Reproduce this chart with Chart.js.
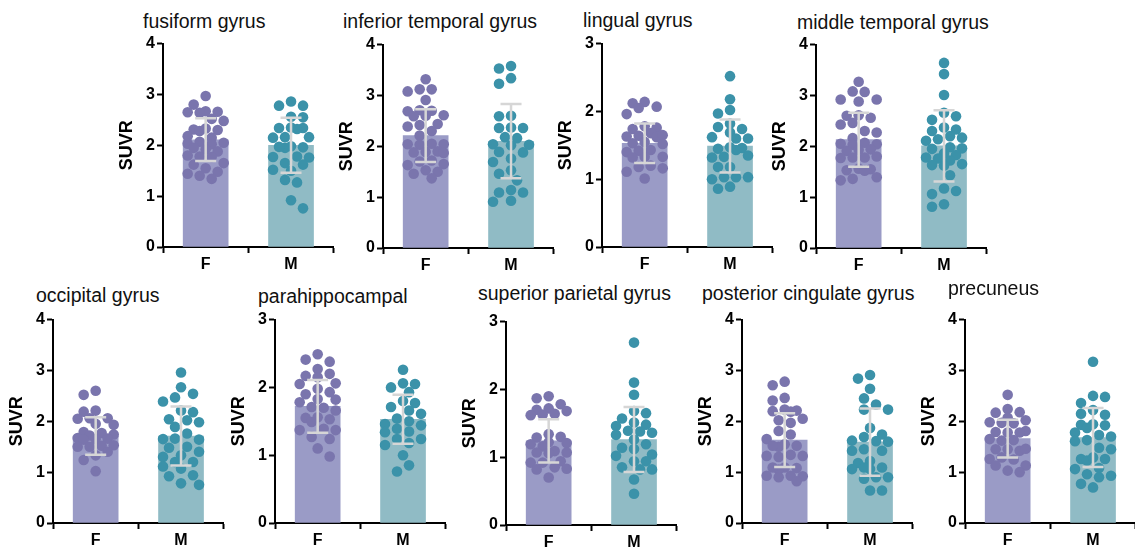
<!DOCTYPE html>
<html><head><meta charset="utf-8">
<script src="https://cdn.jsdelivr.net/npm/chart.js@4.4.1/dist/chart.umd.min.js"></script>
<style>
html,body{margin:0;padding:0;background:#fff;overflow:hidden;width:1135px;height:547px;position:relative;}
.ttl{position:absolute;font-family:"Liberation Sans",Arial,sans-serif;font-size:19.5px;line-height:20px;color:#111;white-space:nowrap;}
canvas{position:absolute;}
</style></head><body>
<script>
// ---------------- DATA ----------------
const regionTitles = ['fusiform gyrus','inferior temporal gyrus','lingual gyrus','middle temporal gyrus',
  'occipital gyrus','parahippocampal','superior parietal gyrus','posterior cingulate gyrus','precuneus'];
const groupLabels = ['F','M'];
const yAxisTitle = 'SUVR';
const yMaxes = [4,4,3,4,4,3,3,4,4];
const meanF = [2.11,2.21,1.53,2.13,1.71,1.72,1.24,1.63,1.66];
const sdF   = [0.42,0.52,0.29,0.53,0.37,0.39,0.32,0.53,0.37];
const meanM = [2.00,2.10,1.49,2.01,1.71,1.53,1.26,1.59,1.68];
const sdM   = [0.54,0.73,0.39,0.70,0.58,0.36,0.48,0.66,0.58];

const fusiformF = [2.97,2.80,2.67,2.65,2.64,2.66,2.52,2.48,2.33,2.31,2.30,2.28,2.18,2.15,2.07,2.05,2.03,2.02,1.95,1.92,1.88,1.80,1.78,1.77,1.65,1.62,1.55,1.48,1.44,1.40,1.34];
const fusiformM = [2.86,2.78,2.78,2.56,2.55,2.35,2.34,2.32,2.34,2.16,2.15,2.16,1.98,1.96,1.95,1.97,1.78,1.76,1.77,1.65,1.62,1.52,1.50,1.32,1.27,0.92,0.76];
const infTemporalF = [3.32,3.12,3.08,3.12,2.91,2.70,2.71,2.69,2.60,2.61,2.59,2.44,2.42,2.39,2.30,2.21,2.05,2.04,2.03,2.04,1.89,1.88,1.90,1.87,1.70,1.72,1.65,1.50,1.53,1.46,1.63,1.37];
const infTemporalM = [3.58,3.53,3.34,3.23,2.60,2.59,2.37,2.36,2.36,2.18,2.16,2.02,2.04,2.03,1.89,1.88,1.76,1.69,1.53,1.46,1.33,1.09,1.09,1.14,0.91,0.93];
const lingualF = [2.14,2.07,2.12,2.05,1.96,1.78,1.76,1.74,1.68,1.64,1.63,1.62,1.65,1.55,1.53,1.52,1.42,1.43,1.40,1.33,1.32,1.33,1.20,1.16,1.18,1.11,1.01];
const lingualM = [2.52,2.18,2.02,1.97,1.82,1.77,1.74,1.69,1.60,1.62,1.60,1.47,1.45,1.46,1.43,1.33,1.35,1.32,1.18,1.18,1.03,1.03,1.00,1.03,0.89,0.86];
const midTemporalF = [3.27,3.07,3.08,2.92,2.88,2.92,2.61,2.60,2.56,2.46,2.43,2.27,2.30,2.16,2.07,2.05,2.04,2.03,1.94,1.93,1.91,1.78,1.77,1.78,1.80,1.56,1.53,1.55,1.52,1.39,1.33,1.36];
const midTemporalM = [3.64,3.42,3.01,2.66,2.59,2.52,2.37,2.30,2.33,2.17,2.11,2.20,2.14,1.98,1.96,1.95,1.86,1.83,1.78,1.76,1.72,1.65,1.62,1.63,1.43,1.17,1.12,1.06,0.81,0.86];
const occipitalF = [2.60,2.52,2.19,2.21,2.06,2.05,2.06,1.95,1.93,1.79,1.74,1.77,1.72,1.66,1.67,1.65,1.64,1.53,1.50,1.52,1.50,1.40,1.33,1.24,1.02];
const occipitalM = [2.96,2.67,2.47,2.54,2.39,2.21,2.18,2.02,1.89,1.98,2.04,1.76,1.66,1.64,1.65,1.50,1.48,1.33,1.30,1.40,1.20,1.20,1.11,1.07,0.94,0.92,0.75,0.78];
const parahippoF = [2.49,2.38,2.41,2.27,2.20,2.15,2.17,2.05,2.06,1.93,1.98,1.90,1.83,1.82,1.78,1.71,1.70,1.66,1.56,1.55,1.53,1.49,1.39,1.37,1.37,1.24,1.27,1.10,0.98];
const parahippoM = [2.26,2.06,2.05,2.00,1.93,1.80,1.77,1.71,1.66,1.61,1.54,1.50,1.46,1.44,1.39,1.35,1.34,1.24,1.24,1.18,1.15,1.00,0.85,0.76];
const supParietalF = [1.87,1.90,1.78,1.70,1.72,1.68,1.63,1.64,1.62,1.34,1.30,1.29,1.21,1.19,1.22,1.16,1.07,1.09,1.06,1.07,0.94,0.92,0.92,0.82,0.85,0.83,0.70];
const supParietalM = [2.69,2.10,1.92,1.68,1.65,1.57,1.51,1.46,1.48,1.38,1.36,1.33,1.39,1.26,1.12,1.14,1.19,1.04,1.02,0.94,0.94,0.82,0.85,0.82,0.67,0.46];
const postCingulateF = [2.78,2.71,2.46,2.41,2.23,2.21,2.20,2.19,2.05,2.02,1.97,1.81,1.74,1.65,1.55,1.52,1.50,1.52,1.34,1.32,1.30,1.32,1.09,1.08,1.05,1.09,0.93,0.92,0.90,0.93,0.82];
const postCingulateM = [2.91,2.84,2.64,2.45,2.33,2.23,2.23,1.87,1.69,1.74,1.62,1.60,1.61,1.42,1.45,1.42,1.22,1.18,1.06,1.09,1.06,1.09,0.87,0.90,0.90,0.64,0.64];
const precuneusF = [2.52,2.18,2.17,2.24,2.07,1.98,1.96,1.97,2.02,1.81,1.79,1.78,1.78,1.65,1.63,1.62,1.45,1.42,1.46,1.45,1.29,1.25,1.26,1.13,1.13,1.00,1.03];
const precuneusM = [3.17,2.50,2.48,2.36,2.22,2.15,2.13,1.94,1.92,1.93,1.87,1.73,1.78,1.70,1.61,1.63,1.48,1.45,1.26,1.26,1.23,1.29,1.06,1.08,0.93,0.90,0.96,0.70,0.77];

const pointsF = [fusiformF,infTemporalF,lingualF,midTemporalF,occipitalF,parahippoF,supParietalF,postCingulateF,precuneusF];
const pointsM = [fusiformM,infTemporalM,lingualM,midTemporalM,occipitalM,parahippoM,supParietalM,postCingulateM,precuneusM];

// ---------------- LAYOUT / STYLE ----------------
const panelPos = [[163,42],[383,43],[602,42],[816,43],[53,318],[275,318],[506,320],[742,318],[965,318]]; // axis x, plot top
const titlePos = [[143,27.5],[343,27.7],[583,26.7],[797,28.3],[36,301.5],[258,303],[478,300],[702,300],[948,295]]; // left, baseline
const PLOT_W = 172, PLOT_H = 205, YAXIS_W = 47, XAXIS_H = 30, PAD_TOP = 10, PAD_RIGHT = 4;
const colBarF = '#9a9bc6', colBarM = '#90bbc5', colPtF = '#7a75ad', colPtM = '#3b92a9', colErr = '#d6d6d6';
const FONT = '"Liberation Sans", Arial, Helvetica, sans-serif';
Chart.defaults.font.family = FONT;

const errorBarPlugin = {
  id: 'errbars',
  afterDatasetsDraw(chart, args, opts) {
    const {ctx} = chart; const xs = chart.scales.x, ys = chart.scales.y;
    ctx.save(); ctx.strokeStyle = opts.color; ctx.lineWidth = opts.width; ctx.lineCap = 'butt';
    opts.items.forEach(it => {
      const px = xs.getPixelForValue(it.x);
      const yt = ys.getPixelForValue(it.mean + it.sd), yb = ys.getPixelForValue(it.mean - it.sd);
      ctx.beginPath();
      ctx.moveTo(px, yt); ctx.lineTo(px, yb);
      ctx.moveTo(px - opts.cap, yt); ctx.lineTo(px + opts.cap, yt);
      ctx.moveTo(px - opts.cap, yb); ctx.lineTo(px + opts.cap, yb);
      ctx.stroke();
    });
    ctx.restore();
  }
};

function swarm(chart, dsIdx, center, r, step, maxOff) {
  const xs = chart.scales.x, ys = chart.scales.y;
  const ds = chart.data.datasets[dsIdx];
  const cx = xs.getPixelForValue(center);
  const order = ds.data.map((d, i) => i).sort((a, b) => ds.data[b].y - ds.data[a].y);
  const placed = [];
  order.forEach((i, n) => {
    const sgn = n % 2 ? -1 : 1;
    const cands = [0];
    for (let k = 1; k * step <= maxOff + 0.01; k++) cands.push(sgn * k * step, -sgn * k * step);
    const py = ys.getPixelForValue(ds.data[i].y);
    let best = 0, bestD = -1;
    for (const off of cands) {
      let md = Infinity;
      for (const p of placed) { const d = Math.hypot(p[0] - off, p[1] - py); if (d < md) md = d; }
      if (md >= 2 * r) { best = off; bestD = md; break; }
      if (md > bestD) { bestD = md; best = off; }
    }
    placed.push([best, py]);
    ds.data[i].x = xs.getValueForPixel(cx + best);
  });
}

regionTitles.forEach((title, i) => {
  const [ax, pt] = panelPos[i];
  const t = document.createElement('div');
  t.className = 'ttl'; t.textContent = title;
  t.style.left = titlePos[i][0] + 'px'; t.style.top = (titlePos[i][1] - 16.8) + 'px';
  document.body.appendChild(t);

  const cv = document.createElement('canvas');
  const w = YAXIS_W + PLOT_W + PAD_RIGHT, h = PAD_TOP + PLOT_H + XAXIS_H;
  cv.width = w; cv.height = h;
  cv.style.width = w + 'px'; cv.style.height = h + 'px';
  cv.style.left = (ax - YAXIS_W) + 'px'; cv.style.top = (pt - PAD_TOP) + 'px';
  document.body.appendChild(cv);

  const chart = new Chart(cv, {
    type: 'bar',
    data: {
      datasets: [
        { type: 'bar', data: [{x: 0, y: meanF[i]}, {x: 1, y: meanM[i]}], backgroundColor: [colBarF, colBarM],
          borderWidth: 0, barThickness: 45, order: 3 },
        { type: 'scatter', data: pointsF[i].map(v => ({x: 0, y: v})), backgroundColor: colPtF, borderWidth: 0,
          pointRadius: 5.3, pointHoverRadius: 5.3, order: 1 },
        { type: 'scatter', data: pointsM[i].map(v => ({x: 1, y: v})), backgroundColor: colPtM, borderWidth: 0,
          pointRadius: 5.3, pointHoverRadius: 5.3, order: 1 }
      ]
    },
    options: {
      responsive: false, animation: false, events: [],
      layout: { padding: { top: PAD_TOP, right: PAD_RIGHT, left: 0, bottom: 0 } },
      plugins: {
        legend: { display: false }, tooltip: { enabled: false },
        errbars: { color: colErr, width: 2.5, cap: 10.5, items: [
          {x: 0, mean: meanF[i], sd: sdF[i]}, {x: 1, mean: meanM[i], sd: sdM[i]}] }
      },
      scales: {
        x: {
          type: 'linear', min: -0.5, max: 1.5, offset: false,
          afterBuildTicks: s => { s.ticks = [{value: 0}, {value: 1}]; },
          afterFit: s => { s.height = XAXIS_H; },
          ticks: { callback: v => groupLabels[Math.round(v)], color: '#000', font: { size: 16, weight: 'bold' },
                   padding: 2, maxRotation: 0, autoSkip: false },
          grid: { drawOnChartArea: false, drawTicks: true, tickLength: 6, tickWidth: 2, tickColor: '#000' },
          border: { display: true, color: '#000', width: 2 }
        },
        y: {
          min: 0, max: yMaxes[i],
          afterFit: s => { s.width = YAXIS_W; },
          ticks: { stepSize: 1, color: '#000', font: { size: 16, weight: 'bold' }, padding: 2 },
          grid: { drawOnChartArea: false, drawTicks: true, tickLength: 6, tickWidth: 2, tickColor: '#000' },
          border: { display: true, color: '#000', width: 2 },
          title: { display: true, text: yAxisTitle, color: '#000', font: { size: 18, weight: 'bold' }, padding: 0 }
        }
      }
    },
    plugins: [errorBarPlugin]
  });
  swarm(chart, 1, 0, 5.3, 6, 18);
  swarm(chart, 2, 1, 5.3, 6, 18);
  chart.update('none');
});
</script>
</body></html>
